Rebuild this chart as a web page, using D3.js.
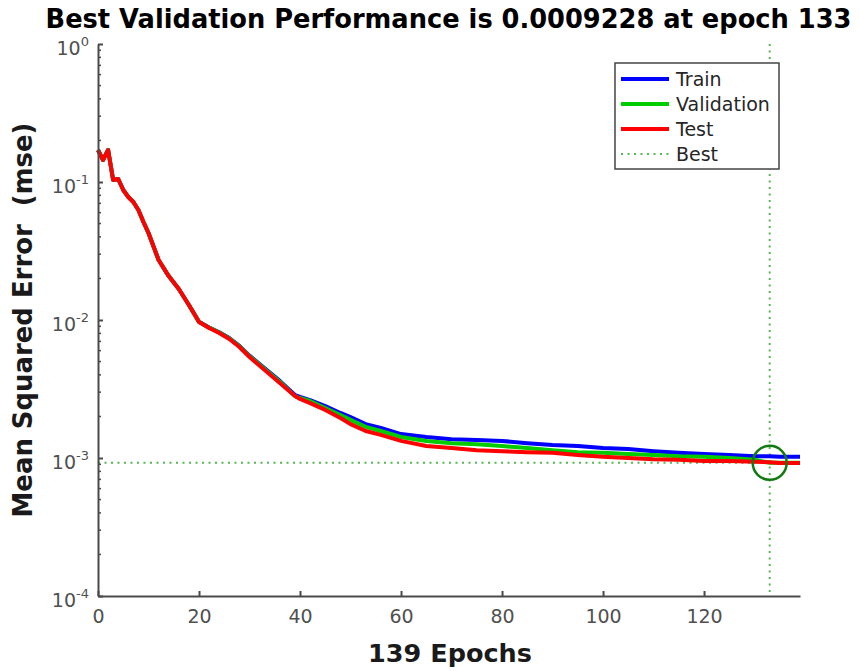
<!DOCTYPE html>
<html>
<head>
<meta charset="utf-8">
<script src="https://cdn.jsdelivr.net/npm/d3@7"></script>
<style>
  html, body { margin: 0; padding: 0; background: #fff; }
  svg { display: block; font-family: "DejaVu Sans", sans-serif; }
</style>
</head>
<body>
<svg id="chart" width="860" height="671"></svg>
<script>
// ---- data ----
const titleText = "Best Validation Performance is 0.0009228 at epoch 133";
const xLabel = "139 Epochs";
const yLabel = "Mean Squared Error  (mse)";
const totalEpochs = 139;
const bestEpoch = 133;
const bestPerf = 0.0009228;

const epochs = [0,1,2,3,4,5,6,7,8,9,10,12,14,16,18,20,22,24,26,28,30,33,36,39,40,42,45,48,50,53,56,60,65,70,75,80,85,90,95,100,105,110,115,120,125,130,133,135,139];

const trainPerf = [0.1705,0.1443,0.1705,0.1034,0.1051,0.0875,0.0779,0.0716,0.0627,0.0513,0.0427,0.0272,0.0208,0.01678,0.01285,0.00970,0.00882,0.00815,0.00740,0.00650,0.00552,0.00446,0.00362,0.00286,0.00277,0.00263,0.00238,0.00212,0.00198,0.00176,0.00165,0.00149,0.00142,0.00137,0.00135,0.00133,0.00128,0.00124,0.00122,0.00118,0.00116,0.00112,0.00109,0.00107,0.00105,0.00103,0.00103,0.00102,0.00102];

const valPerf = [0.1705,0.1443,0.1705,0.1034,0.1051,0.0875,0.0779,0.0716,0.0627,0.0513,0.0427,0.0272,0.0208,0.01678,0.01285,0.00969,0.00880,0.00812,0.00736,0.00645,0.00547,0.00441,0.00357,0.00281,0.00272,0.00259,0.00230,0.00205,0.00189,0.00168,0.00157,0.00142,0.00133,0.00128,0.00126,0.00122,0.00118,0.00114,0.00110,0.00109,0.00107,0.00105,0.00103,0.00102,0.00100,0.00097,0.0009228,0.000925,0.000925];

const testPerf = [0.1705,0.1443,0.1705,0.1034,0.1051,0.0875,0.0779,0.0716,0.0627,0.0513,0.0427,0.0272,0.0208,0.01678,0.01285,0.00967,0.00875,0.00805,0.00728,0.00637,0.00539,0.00434,0.00350,0.00281,0.00268,0.00250,0.00223,0.00195,0.00176,0.00157,0.00147,0.00133,0.00122,0.00118,0.00114,0.00112,0.00110,0.00109,0.00105,0.00102,0.00100,0.00098,0.00097,0.00095,0.00095,0.00094,0.00093,0.00092,0.00092];

const xTicks = [0,20,40,60,80,100,120];
const yTickExps = [0,-1,-2,-3,-4];
const legendNames = ["Train","Validation","Test","Best"];
const seriesColors = ["#0000ff","#00cc00","#ff0000"];

// ---- layout ----
const svg = d3.select("#chart");
const plot = {left: 98, right: 800, top: 44, bottom: 596};
const axisColor = "#4a4a4a";

const x = d3.scaleLinear().domain([0, totalEpochs]).range([plot.left, plot.right]);
const y = d3.scaleLog().domain([1e-4, 1]).range([plot.bottom, plot.top]);

// best-value dotted guides
const bestColor = "#55b855";
svg.append("line")
  .attr("x1", x(0)).attr("x2", x(totalEpochs))
  .attr("y1", y(bestPerf)).attr("y2", y(bestPerf))
  .attr("stroke", bestColor).attr("stroke-width", 2)
  .attr("stroke-dasharray", "2,4.5");
svg.append("line")
  .attr("x1", x(bestEpoch)).attr("x2", x(bestEpoch))
  .attr("y1", y(1)).attr("y2", y(1e-4))
  .attr("stroke", bestColor).attr("stroke-width", 2)
  .attr("stroke-dasharray", "2,4.5");

// series lines
const line = d3.line()
  .x((d, i) => x(epochs[i]))
  .y(d => y(d));
[trainPerf, valPerf, testPerf].forEach((s, k) => {
  svg.append("path")
    .datum(s)
    .attr("d", line)
    .attr("fill", "none")
    .attr("stroke", seriesColors[k])
    .attr("stroke-width", 4)
    .attr("stroke-linejoin", "round");
});

// best circle
svg.append("circle")
  .attr("cx", x(bestEpoch)).attr("cy", y(bestPerf))
  .attr("r", 17)
  .attr("fill", "none")
  .attr("stroke", "#117a11")
  .attr("stroke-width", 2.5);

// axes (MATLAB style: ticks inside)
const xAxis = d3.axisBottom(x).tickValues(xTicks).tickSizeInner(-5).tickSizeOuter(0).tickPadding(14);
const gx = svg.append("g").attr("transform", `translate(0,${plot.bottom})`).call(xAxis);
gx.select(".domain").attr("stroke", axisColor).attr("stroke-width", 2);
gx.selectAll(".tick line").attr("stroke", axisColor).attr("stroke-width", 2);
gx.selectAll(".tick text").attr("fill", "#505050").attr("font-size", 19)
  .attr("font-family", "DejaVu Sans, sans-serif");

const yAxis = d3.axisLeft(y).tickValues(yTickExps.map(e => Math.pow(10, e))).tickSizeInner(-5).tickSizeOuter(0).tickFormat("");
const gy = svg.append("g").attr("transform", `translate(${plot.left},0)`).call(yAxis);
gy.select(".domain").attr("stroke", axisColor).attr("stroke-width", 2);
gy.selectAll(".tick line").attr("stroke", axisColor).attr("stroke-width", 2);

// minor log ticks
const minor = [];
for (let e = -4; e < 0; e++) for (let m = 2; m <= 9; m++) minor.push(m * Math.pow(10, e));
gy.selectAll(".minor").data(minor).enter().append("line")
  .attr("x1", 0).attr("x2", 3)
  .attr("y1", d => y(d)).attr("y2", d => y(d))
  .attr("stroke", axisColor).attr("stroke-width", 1.5);

// y tick labels 10^n
yTickExps.forEach(e => {
  const t = svg.append("text")
    .attr("x", 89).attr("y", y(Math.pow(10, e)) + 11)
    .attr("text-anchor", "end")
    .attr("fill", "#505050")
    .attr("font-size", 19);
  t.append("tspan").text("10");
  t.append("tspan").attr("font-size", 13).attr("dy", -9).text(String(e));
});

// fit text width helper
function fitText(sel, targetWidth) {
  const w = sel.node().getComputedTextLength();
  const fs = parseFloat(sel.attr("font-size"));
  sel.attr("font-size", fs * targetWidth / w);
}

// title
const title = svg.append("text")
  .attr("x", 448.5).attr("y", 28)
  .attr("text-anchor", "middle")
  .attr("font-weight", "bold")
  .attr("font-size", 22)
  .attr("fill", "#000")
  .text(titleText);
fitText(title, 806);

// x label
const xl = svg.append("text")
  .attr("x", 450).attr("y", 662)
  .attr("text-anchor", "middle")
  .attr("font-weight", "bold")
  .attr("font-size", 25)
  .attr("fill", "#1a1a1a")
  .text(xLabel);
fitText(xl, 164);

// y label
const yl = svg.append("text")
  .attr("transform", "translate(32,320) rotate(-90)")
  .attr("text-anchor", "middle")
  .attr("font-weight", "bold")
  .attr("font-size", 24)
  .attr("fill", "#1a1a1a")
  .attr("xml:space", "preserve")
  .style("white-space", "pre")
  .text(yLabel);
fitText(yl, 395);

// legend
const lg = svg.append("g");
lg.append("rect")
  .attr("x", 615).attr("y", 63).attr("width", 164).attr("height", 106)
  .attr("fill", "#fff").attr("stroke", "#444").attr("stroke-width", 1.5);
const legendY = [79, 104, 129, 154];
legendNames.forEach((name, i) => {
  const ln = lg.append("line")
    .attr("x1", 621).attr("x2", 669)
    .attr("y1", legendY[i]).attr("y2", legendY[i]);
  if (i < 3) {
    ln.attr("stroke", seriesColors[i]).attr("stroke-width", 4);
  } else {
    ln.attr("stroke", bestColor).attr("stroke-width", 2).attr("stroke-dasharray", "2,4.5");
  }
  lg.append("text")
    .attr("x", 676).attr("y", legendY[i] + 7)
    .attr("font-size", 19)
    .attr("fill", "#262626")
    .text(name);
});
</script>
</body>
</html>
